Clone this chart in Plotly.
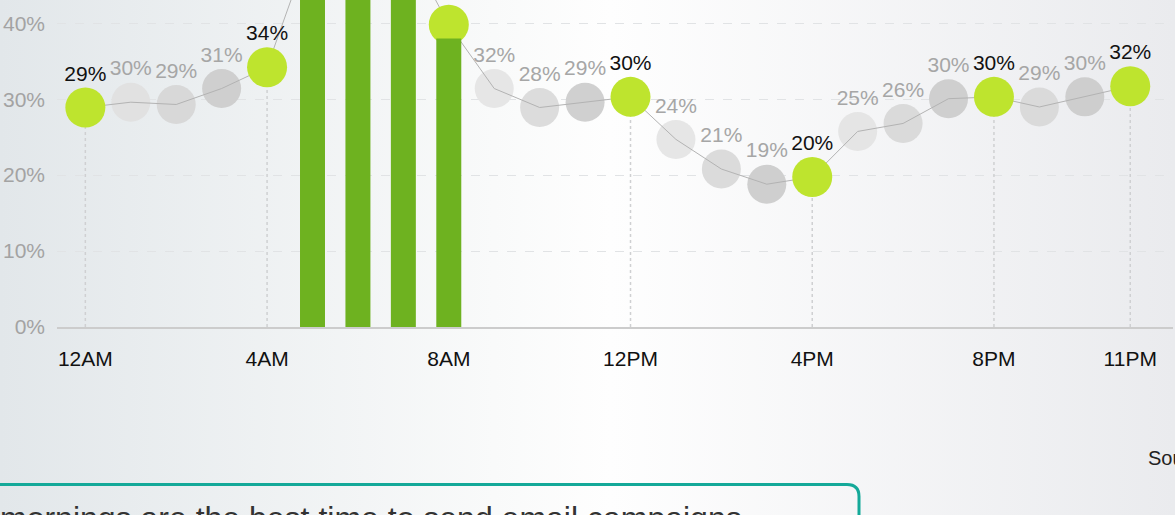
import base64
import plotly.graph_objects as go

# ---------------- data ----------------
hours = list(range(24))
open_rate = [28.9, 29.6, 29.3, 31.4, 34.2, 51.0, 53.0, 51.0, 39.8, 31.4, 28.9, 29.6,
             30.3, 24.7, 20.8, 18.8, 19.75, 25.75, 26.8, 30.06, 30.3, 28.97, 30.3, 31.7]
point_labels = ['29%', '30%', '29%', '31%', '34%', '', '', '', '', '32%', '28%', '29%',
                '30%', '24%', '21%', '19%', '20%', '25%', '26%', '30%', '30%', '29%', '30%', '32%']
highlight_hours = [0, 4, 8, 12, 16, 20, 23]
bar_hours = [5, 6, 7, 8]
bar_values = [51.0, 53.0, 51.0, 38.0]
tick_hours = [0, 4, 8, 12, 16, 20, 23]
tick_labels = ['12AM', '4AM', '8AM', '12PM', '4PM', '8PM', '11PM']
y_ticks = [0, 10, 20, 30, 40]
y_tick_labels = ['0%', '10%', '20%', '30%', '40%']
callout_text = 'mornings are the best time to send email campaigns'
source_text = 'Source'

# ---------------- styles ----------------
FONT = 'Liberation Sans, Arial, sans-serif'
GREEN = '#bee42e'
BAR_GREEN = '#6eb220'
gray_shades = {1: '#e1e1e1', 2: '#d8d8d8', 3: '#cfcfcf', 5: '#e4e4e4', 6: '#dadada', 7: '#d0d0d0',
               9: '#e6e6e6', 10: '#dcdcdc', 11: '#d0d0d0', 13: '#e6e6e6', 14: '#dbdbdb', 15: '#cfcfcf',
               17: '#e5e5e5', 18: '#dadada', 19: '#cfcfcf', 21: '#dadada', 22: '#cecece'}

W_FIG, H_FIG = 1175, 515
L, R, T, B = 57, 2, 0, 188
PW, PH = W_FIG - L - R, H_FIG - T - B


def px_x(px):
    return (px - L) / PW


def px_y(py):
    return (PH + T - py) / PH


fig = go.Figure()

# dotted drop lines from highlighted points (except where a bar stands)
dx, dy = [], []
for h in highlight_hours:
    if h in bar_hours:
        continue
    dx += [h, h, None]
    dy += [0, open_rate[h], None]
fig.add_trace(go.Scatter(x=dx, y=dy, mode='lines',
                         line=dict(color='#cfd0d2', width=1.5, dash='dot'),
                         hoverinfo='skip', showlegend=False))

# gray circles
gx = [h for h in hours if h not in highlight_hours]
fig.add_trace(go.Scatter(x=gx, y=[open_rate[h] for h in gx], mode='markers',
                         marker=dict(size=39, color=[gray_shades[h] for h in gx], line=dict(width=0)),
                         showlegend=False))

# connecting line
fig.add_trace(go.Scatter(x=hours, y=open_rate, mode='lines',
                         line=dict(color='#b3b3b3', width=1), showlegend=False))

# green highlighted circles
fig.add_trace(go.Scatter(x=highlight_hours, y=[open_rate[h] for h in highlight_hours], mode='markers',
                         marker=dict(size=40, color=GREEN, line=dict(width=0)), showlegend=False))

# labels
label_colors = ['#111111' if h in highlight_hours else '#a6a6a6' for h in hours]
fig.add_trace(go.Scatter(x=hours, y=open_rate, mode='markers+text', text=point_labels,
                         textposition='top center',
                         textfont=dict(family=FONT, size=21, color=label_colors),
                         marker=dict(size=33, color='rgba(0,0,0,0)'), showlegend=False))

# morning bars (drawn above the circles)
fig.add_trace(go.Bar(x=bar_hours, y=bar_values, width=0.55, marker=dict(color=BAR_GREEN, line=dict(width=0)),
                     yaxis='y2', showlegend=False))

x_range = [(L - 85.35) / 45.43, (L + PW - 85.35) / 45.43]
y_range = [0, PH / 7.595]

bg_svg = (
    "<svg xmlns='http://www.w3.org/2000/svg' width='1175' height='515' preserveAspectRatio='none'>"
    "<defs><linearGradient id='g' x1='0' y1='0' x2='1' y2='0'>"
    "<stop offset='0' stop-color='#e2e7ea'/>"
    "<stop offset='0.42' stop-color='#f9fafa'/>"
    "<stop offset='0.52' stop-color='#fefefe'/>"
    "<stop offset='1' stop-color='#eaebee'/>"
    "</linearGradient></defs><rect width='1175' height='515' fill='url(#g)'/></svg>"
)
bg_uri = 'data:image/svg+xml;base64,' + base64.b64encode(bg_svg.encode()).decode()

# rounded callout box (top-right corner visible)
x0, x1 = px_x(-10), px_x(859)
yt, yb = px_y(484.5), px_y(540)
rx, ry = 12 / PW, 12 / PH
box_path = (f'M {x0},{yb} L {x0},{yt} L {x1 - rx},{yt} '
            f'Q {x1},{yt} {x1},{yt - ry} L {x1},{yb}')

fig.update_layout(
    width=W_FIG, height=H_FIG,
    margin=dict(l=L, r=R, t=T, b=B, pad=0),
    paper_bgcolor='rgba(0,0,0,0)', plot_bgcolor='rgba(0,0,0,0)',
    font=dict(family=FONT),
    showlegend=False,
    xaxis=dict(range=x_range, tickvals=tick_hours, ticktext=tick_labels, showgrid=False,
               zeroline=False, showline=True, linecolor='#cccccc', linewidth=1.5,
               ticks='', tickfont=dict(family=FONT, size=21, color='#111111'),
               ticklabelstandoff=12, fixedrange=True),
    yaxis=dict(range=y_range, tickvals=y_ticks, ticktext=y_tick_labels, showgrid=True,
               gridcolor='#e1e3e5', griddash='dash', gridwidth=1, zeroline=False, showline=False,
               ticks='', tickfont=dict(family=FONT, size=21, color='#a3a3a3'),
               ticklabelstandoff=11, fixedrange=True),
    yaxis2=dict(range=y_range, overlaying='y', visible=False, fixedrange=True),
    images=[dict(source=bg_uri, xref='paper', yref='paper', x=px_x(0), y=px_y(0),
                 sizex=W_FIG / PW, sizey=H_FIG / PH, xanchor='left', yanchor='top',
                 sizing='stretch', layer='below')],
    shapes=[dict(type='path', xref='paper', yref='paper', path=box_path,
                 line=dict(color='#14a999', width=3), layer='above')],
    annotations=[
        dict(text=callout_text, xref='paper', yref='paper', x=px_x(-2), y=px_y(498),
             xanchor='left', yanchor='top', showarrow=False,
             font=dict(family=FONT, size=32, color='#333333')),
        dict(text=source_text, xref='paper', yref='paper', x=px_x(1146), y=px_y(445),
             xanchor='left', yanchor='top', showarrow=False,
             font=dict(family=FONT, size=20, color='#222222')),
    ],
)

fig.write_html('out.html')
